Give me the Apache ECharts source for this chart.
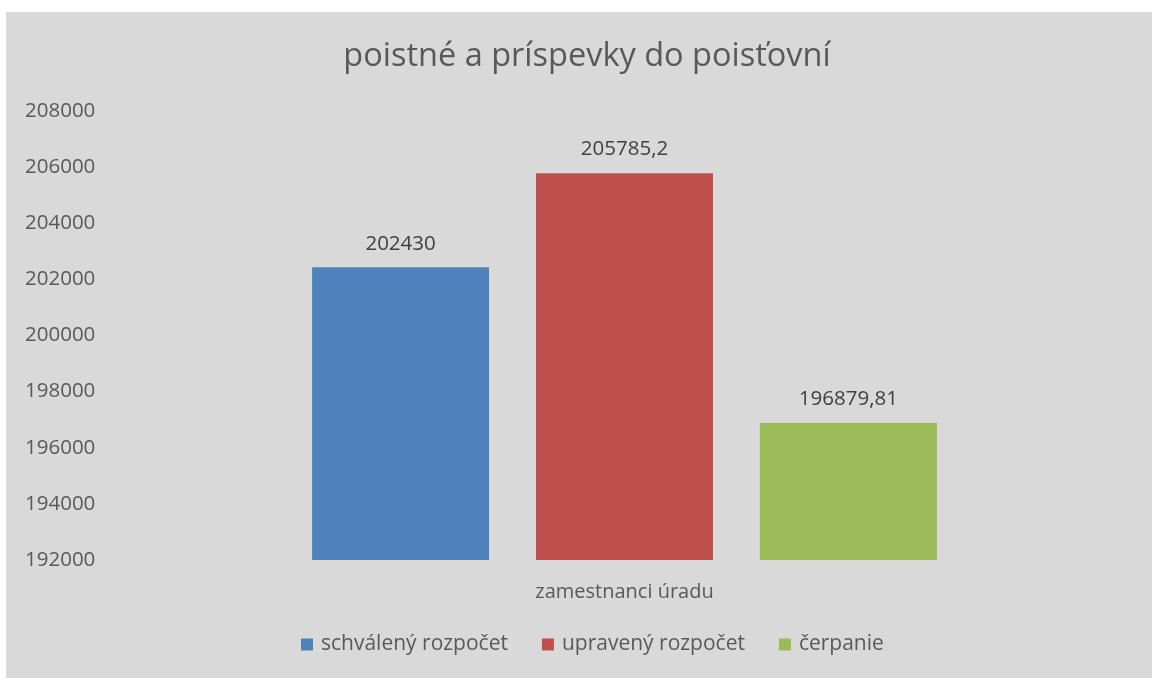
<!DOCTYPE html>
<html><head><meta charset="utf-8">
<script src="https://cdn.jsdelivr.net/npm/echarts@6/dist/echarts.min.js"></script>
<style>html,body{margin:0;padding:0;background:#fff}#c{width:1152px;height:678px}</style>
</head><body><div id="c"></div>
<script>
const title = 'poistné a príspevky do poisťovní';
const categories = ['zamestnanci úradu'];
const seriesNames = ['schválený rozpočet', 'upravený rozpočet', 'čerpanie'];
const schvaleny = [202430];
const upraveny = [205785.2];
const cerpanie = [196879.81];
const colors = ['#4f81bd', '#c0504d', '#9bbb59'];
const yTicks = { min: 192000, max: 208000, interval: 2000 };

const font = '"Open Sans", "Noto Sans", sans-serif';
const chart = echarts.init(document.getElementById('c'));
const fmt = p => String(p.value).replace('.', ',');
const mk = (name, data, color) => ({
  name, type: 'bar', data, barWidth: 177, barGap: '26.5%',
  itemStyle: { color },
  label: { show: true, position: 'top', distance: 13, formatter: fmt,
    color: '#404040', fontSize: 20.5, fontFamily: font }
});
chart.setOption({
  backgroundColor: '#fff',
  animation: false,
  graphic: [{ type: 'rect', left: 6, top: 12, shape: { width: 1146, height: 666 },
    style: { fill: '#d9d9d9' }, z: -10 }],
  title: { text: title, top: 35, left: 582, textAlign: 'center',
    textStyle: { color: '#595959', fontSize: 32.5, fontWeight: 'normal', fontFamily: font } },
  grid: { left: 105, right: 8, top: 111, bottom: 118 },
  legend: { bottom: 18, left: 296, itemWidth: 12, itemHeight: 12, itemGap: 34,
    icon: 'rect', textStyle: { color: '#595959', fontSize: 21, fontFamily: font, padding: [0, 0, 0, 3] },
    data: seriesNames },
  xAxis: { type: 'category', data: categories,
    axisLine: { show: false }, axisTick: { show: false },
    axisLabel: { color: '#595959', fontSize: 20, fontFamily: font, margin: 22 } },
  yAxis: { type: 'value', min: yTicks.min, max: yTicks.max, interval: yTicks.interval,
    splitLine: { show: false }, axisLine: { show: false }, axisTick: { show: false },
    axisLabel: { color: '#595959', fontSize: 20.5, fontFamily: font, margin: 80, align: 'left',
      formatter: v => String(v) } },
  series: [mk(seriesNames[0], schvaleny, colors[0]), mk(seriesNames[1], upraveny, colors[1]), mk(seriesNames[2], cerpanie, colors[2])]
});
</script></body></html>
